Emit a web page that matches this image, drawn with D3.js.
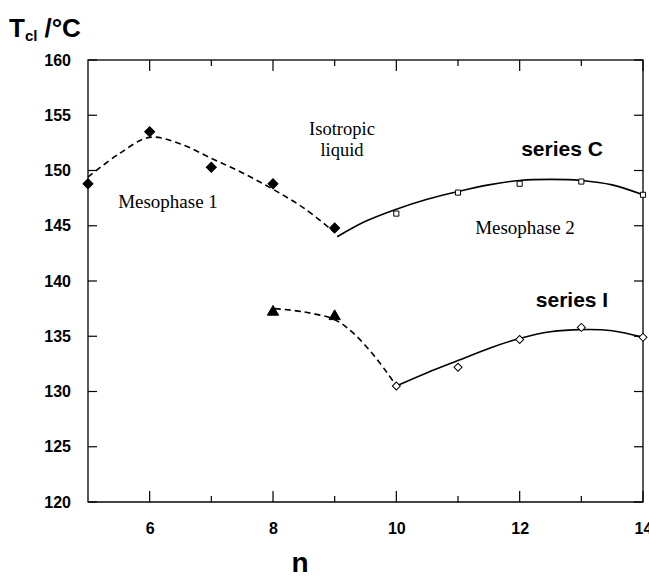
<!DOCTYPE html>
<html>
<head>
<meta charset="utf-8">
<script src="https://cdn.jsdelivr.net/npm/d3@7"></script>
<style>
  body { margin: 0; background: #fff; }
  .tick text { font-family: "Liberation Sans", Arial, sans-serif; font-weight: bold; font-size: 16px; }
  .serif { font-family: "Liberation Serif", "Times New Roman", serif; font-size: 19px; }
  .bold { font-family: "Liberation Sans", Arial, sans-serif; font-weight: bold; }
</style>
</head>
<body>
<div id="container"></div>
<script>
// measured points
var nC1 = [5, 6, 7, 8, 9];
var tC1 = [148.8, 153.5, 150.3, 148.8, 144.8];
var nC2 = [10, 11, 12, 13, 14];
var tC2 = [146.1, 148.0, 148.8, 149.0, 147.8];
var nI1 = [8, 9];
var tI1 = [137.2, 136.8];
var nI2 = [10, 11, 12, 13, 14];
var tI2 = [130.5, 132.2, 134.7, 135.8, 134.9];

// hand drawn fit curves
var fitC1n = [5, 5.5, 6, 6.5, 7, 7.5, 8, 8.5, 9];
var fitC1t = [149.4, 151.5, 153.0, 152.4, 151.1, 149.8, 148.3, 146.6, 144.4];
var fitC2n = [9.04, 9.5, 10, 10.5, 11, 11.5, 12, 12.5, 13, 13.5, 14];
var fitC2t = [144.0, 145.4, 146.5, 147.4, 148.1, 148.7, 149.1, 149.2, 149.1, 148.7, 147.8];
var fitI1n = [8.03, 8.5, 9, 9.3, 9.6, 9.85, 10];
var fitI1t = [137.5, 137.2, 136.5, 135.3, 133.5, 131.7, 130.5];
var fitI2n = [10, 10.5, 11, 11.5, 12, 12.5, 13, 13.5, 14];
var fitI2t = [130.5, 131.7, 132.8, 133.9, 134.8, 135.4, 135.6, 135.5, 134.9];

var yTicks = [120, 125, 130, 135, 140, 145, 150, 155, 160];
var xMajor = [6, 8, 10, 12, 14];
var xMinor = [7, 9, 11, 13];

var margin = {left: 88, top: 60},
	width = 555,
	height = 442;

var svg = d3.select("#container").append("svg")
	.attr("width", 649)
	.attr("height", 577)
	.append("g")
		.attr("transform", "translate(" + margin.left + "," + margin.top + ")");

var x = d3.scaleLinear().domain([5, 14]).range([0, width]);
var y = d3.scaleLinear().domain([120, 160]).range([height, 0]);

// frame
svg.append("rect")
	.attr("width", width).attr("height", height)
	.style("fill", "none").style("stroke", "#000").style("stroke-width", 1.3);
svg.append("line")
	.attr("x1", 0).attr("x2", width).attr("y1", height).attr("y2", height)
	.style("stroke", "#444").style("stroke-width", 2);

// y axis labels + inward ticks both sides
svg.append("g")
	.call(d3.axisLeft(y).tickValues(yTicks).tickSize(0).tickPadding(17))
	.call(function(g){ g.select(".domain").remove(); });
yTicks.forEach(function(t) {
	svg.append("line").attr("x1", 0).attr("x2", 9).attr("y1", y(t)).attr("y2", y(t)).style("stroke", "#000").style("stroke-width", 1.2);
	svg.append("line").attr("x1", width - 9).attr("x2", width).attr("y1", y(t)).attr("y2", y(t)).style("stroke", "#000").style("stroke-width", 1.2);
});

// x axis
svg.append("g")
	.attr("transform", "translate(0," + height + ")")
	.call(d3.axisBottom(x).tickValues(xMajor).tickSize(0).tickPadding(21).tickFormat(d3.format("d")))
	.call(function(g){ g.select(".domain").remove(); });
xMajor.forEach(function(t) {
	svg.append("line").attr("x1", x(t)).attr("x2", x(t)).attr("y1", height).attr("y2", height - 11).style("stroke", "#000").style("stroke-width", 1.2);
	svg.append("line").attr("x1", x(t)).attr("x2", x(t)).attr("y1", 0).attr("y2", 11).style("stroke", "#000").style("stroke-width", 1.2);
});
xMinor.forEach(function(t) {
	svg.append("line").attr("x1", x(t)).attr("x2", x(t)).attr("y1", height).attr("y2", height - 6).style("stroke", "#000").style("stroke-width", 1.2);
	svg.append("line").attr("x1", x(t)).attr("x2", x(t)).attr("y1", 0).attr("y2", 6).style("stroke", "#000").style("stroke-width", 1.2);
});

// fit lines
var line = d3.line()
	.x(function(d) { return x(d[0]); })
	.y(function(d) { return y(d[1]); })
	.curve(d3.curveCatmullRom);

function drawFit(ns, ts, dashed) {
	svg.append("path")
		.datum(d3.zip(ns, ts))
		.attr("d", line)
		.style("fill", "none")
		.style("stroke", "#000")
		.style("stroke-width", 1.6)
		.style("stroke-dasharray", dashed ? "6,4" : null);
}
drawFit(fitC1n, fitC1t, true);
drawFit(fitC2n, fitC2t, false);
drawFit(fitI1n, fitI1t, true);
drawFit(fitI2n, fitI2t, false);

function drawMarks(ns, ts, type, size, filled) {
	svg.selectAll(null)
		.data(d3.zip(ns, ts)).enter()
		.append("path")
			.attr("transform", function(d) { return "translate(" + x(d[0]) + "," + y(d[1]) + ")" + (type === "diamond" ? " rotate(45)" : ""); })
			.attr("d", d3.symbol().type(type === "triangle" ? d3.symbolTriangle : d3.symbolSquare).size(size))
			.style("fill", filled ? "#000" : "#fff")
			.style("stroke", "#000")
			.style("stroke-width", 1);
}
drawMarks(nC1, tC1, "diamond", 50, true);
drawMarks(nC2, tC2, "square", 26, false);
drawMarks(nI1, tI1, "triangle", 55, true);
drawMarks(nI2, tI2, "diamond", 32, false);

// annotations
svg.append("text").attr("class", "serif").attr("x", 80).attr("y", 148).style("text-anchor", "middle").text("Mesophase 1");
svg.append("text").attr("class", "serif").attr("x", 254).attr("y", 75).style("text-anchor", "middle").style("font-size", "18.5px").text("Isotropic");
svg.append("text").attr("class", "serif").attr("x", 254).attr("y", 96).style("text-anchor", "middle").style("font-size", "18.5px").text("liquid");
svg.append("text").attr("class", "serif").attr("x", 437).attr("y", 174).style("text-anchor", "middle").text("Mesophase 2");
svg.append("text").attr("class", "bold").attr("x", 474).attr("y", 96).style("text-anchor", "middle").style("font-size", "21px").text("series C");
svg.append("text").attr("class", "bold").attr("x", 484).attr("y", 247).style("text-anchor", "middle").style("font-size", "21px").text("series I");

// axis titles
var yt = d3.select("svg").append("text").attr("class", "bold").attr("x", 9).attr("y", 37).style("font-size", "26px");
yt.append("tspan").text("T");
yt.append("tspan").attr("dy", 4).style("font-size", "15px").text("cl");
yt.append("tspan").attr("dy", -4).attr("dx", 7).text("/°C");

d3.select("svg").append("text").attr("class", "bold")
	.attr("x", 300).attr("y", 572)
	.style("text-anchor", "middle").style("font-size", "28px")
	.text("n");
</script>
</body>
</html>
